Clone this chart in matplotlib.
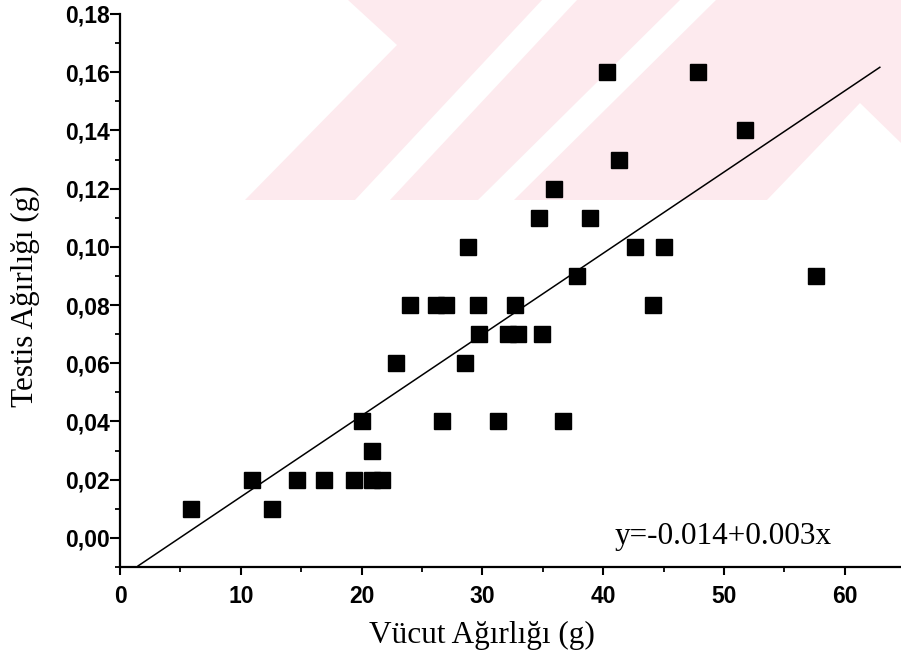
import matplotlib
matplotlib.use("Agg")
import matplotlib.pyplot as plt
from matplotlib.patches import Polygon
from matplotlib.ticker import MultipleLocator, FuncFormatter

# ---------------- data ----------------
body_weight = [5.9, 10.9, 12.6, 14.65, 16.9, 19.4, 20.9, 21.7, 20.9, 20.0,
               22.85, 24.0, 26.15, 27.0, 29.65, 32.7, 26.65, 28.55, 29.7, 32.1,
               32.95, 34.9, 31.3, 36.65, 28.8, 34.7, 35.9, 38.9, 37.85, 40.3,
               41.3, 47.85, 51.75, 42.65, 45.0, 44.1, 57.6]
testis_weight = [0.01, 0.02, 0.01, 0.02, 0.02, 0.02, 0.02, 0.02, 0.03, 0.04,
                 0.06, 0.08, 0.08, 0.08, 0.08, 0.08, 0.04, 0.06, 0.07, 0.07,
                 0.07, 0.07, 0.04, 0.04, 0.10, 0.11, 0.12, 0.11, 0.09, 0.16,
                 0.13, 0.16, 0.14, 0.10, 0.10, 0.08, 0.09]
fit_intercept = -0.0138
fit_slope = 0.00279
fit_x_range = [1.5, 62.9]
x_ticks = [0, 10, 20, 30, 40, 50, 60]
y_ticks = [0.00, 0.02, 0.04, 0.06, 0.08, 0.10, 0.12, 0.14, 0.16, 0.18]
x_label = "Vücut Ağırlığı (g)"
y_label = "Testis Ağırlığı (g)"
equation_label = "y=-0.014+0.003x"

W, H = 901, 663
fig = plt.figure(figsize=(W / 100, H / 100), dpi=100)
fig.patch.set_facecolor("white")


def px(x, y):
    return (x / W, 1 - y / H)


# ---------------- faint watermark (background decoration) ----------------
pink = "#fdeaee"
base = [px(245, 200), px(397, 45), px(348, 0), px(W, 0), px(W, 200)]
fig.patches.append(Polygon(base, closed=True, transform=fig.transFigure,
                           facecolor=pink, edgecolor="none", zorder=-5))
white_bands = [
    [px(355, 200), px(390, 200), px(577, 0), px(542, 0)],
    [px(478, 200), px(514, 200), px(716, 0), px(680, 0)],
    [px(767, 200), px(860, 103), px(W, 143), px(W, 200)],
]
for b in white_bands:
    fig.patches.append(Polygon(b, closed=True, transform=fig.transFigure,
                               facecolor="white", edgecolor="none", zorder=-4))

# ---------------- axes ----------------
ax = fig.add_axes([120 / W, 1 - 567 / H, (W - 120) / W, (567 - 14) / H])
ax.set_zorder(2)
ax.patch.set_alpha(0)
ax.set_xlim(0, (W - 120) / 12.08)
ax.set_ylim(-0.01, 0.18)

for s in ("top", "right"):
    ax.spines[s].set_visible(False)
for s in ("left", "bottom"):
    ax.spines[s].set_linewidth(1.6)
    ax.spines[s].set_color("black")

ax.plot(body_weight, testis_weight, linestyle="none", marker="s",
        markersize=11, color="black", zorder=3, clip_on=False)

fx = fit_x_range
fy = [fit_intercept + fit_slope * v for v in fx]
ax.plot(fx, fy, color="black", linewidth=1.1, zorder=2)

ax.set_xticks(x_ticks)
ax.set_yticks(y_ticks)
ax.xaxis.set_minor_locator(MultipleLocator(5))
ax.yaxis.set_minor_locator(MultipleLocator(0.01))
ax.yaxis.set_major_formatter(FuncFormatter(lambda v, p: f"{v:.2f}".replace(".", ",")))

ax.tick_params(axis="both", which="major", direction="out", width=1.5, colors="black")
ax.tick_params(axis="y", which="major", length=7, pad=0.5)
ax.tick_params(axis="x", which="major", length=6, pad=7)
ax.tick_params(axis="both", which="minor", direction="out", length=3.5, width=1.3)
for lab in ax.get_xticklabels() + ax.get_yticklabels():
    lab.set_fontfamily("Liberation Sans")
    lab.set_fontweight("bold")
    lab.set_fontsize(16.5)

label_font = dict(family="Liberation Serif", size=22.5)
ax.set_xlabel(x_label, **label_font)
ax.xaxis.set_label_coords((482 - 120) / (W - 120), (567 - 621) / (567 - 14))
ax.set_ylabel(y_label, **label_font)
ax.yaxis.set_label_coords((40 - 120) / (W - 120), (567 - 296) / (567 - 14))

ax.text(40.98, -0.0021, equation_label, ha="left", va="baseline",
        family="Liberation Serif", size=22.5, color="black")

fig.savefig("out.png", dpi=100, facecolor="white")
